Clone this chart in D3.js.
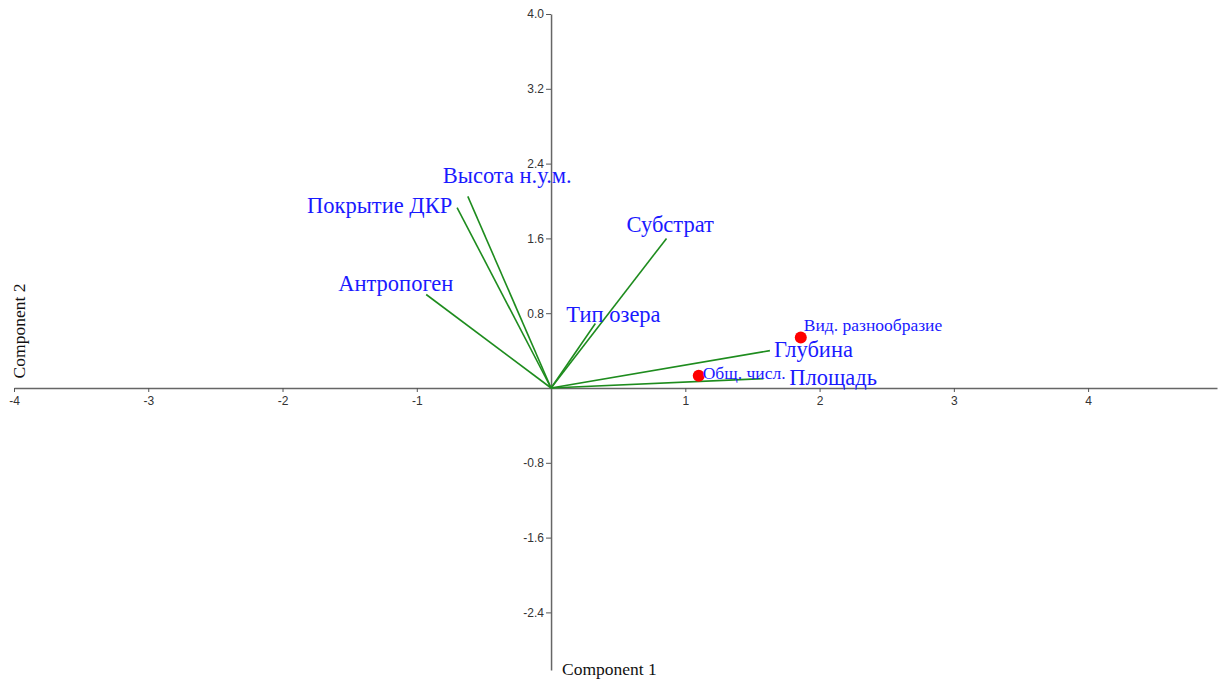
<!DOCTYPE html>
<html>
<head>
<meta charset="utf-8">
<script src="https://cdn.jsdelivr.net/npm/d3@7"></script>
<style>
  body { margin: 0; background: #fff; }
  .tick text { font-family: "Liberation Sans", Arial, sans-serif; font-size: 12px; fill: #333; }
</style>
</head>
<body>
<div id="chart"></div>
<script>
// loadings (vectors from origin)
let varNames = ["Антропоген", "Покрытие ДКР", "Высота н.у.м.", "Субстрат", "Тип озера", "Глубина", "Площадь"];
let varX = [-0.93, -0.70, -0.62, 0.86, 0.33, 1.63, 1.58];
let varY = [1.00, 1.93, 2.05, 1.60, 0.69, 0.40, 0.10];

// scores shown as points
let pointNames = ["Вид. разнообразие", "Общ. числ."];
let pointX = [1.86, 1.10];
let pointY = [0.54, 0.13];

let xTicks = [-4, -3, -2, -1, 1, 2, 3, 4];
let yTicks = [4.0, 3.2, 2.4, 1.6, 0.8, -0.8, -1.6, -2.4];

// label offsets in px from the end of each vector / point
let varLabelOffset = [[-88, -4], [-150, 5], [-25, -13], [-40, -6], [-29, -1], [4, 6], [26, 6]];
let pointLabelOffset = [[3, -7], [4, 3]];

let width = 1218, height = 679;
let serif = "'Liberation Serif', 'Times New Roman', serif";

let svg = d3.select("#chart").append("svg")
  .attr("width", width)
  .attr("height", height);

let x = d3.scaleLinear().domain([-4, 4.96]).range([14, 1217]);
let y = d3.scaleLinear().domain([-3.016, 4]).range([670, 14]);

// plain hyphen instead of unicode minus
let fmtX = (d) => String(d);
let fmtY = (d) => d.toFixed(1);

// x axis through y=0
let xAxis = svg.append("g")
  .attr("transform", "translate(0," + y(0) + ")")
  .call(d3.axisBottom(x).tickValues(xTicks).tickSize(4).tickSizeOuter(0).tickFormat(fmtX));

// y axis through x=0
let yAxis = svg.append("g")
  .attr("transform", "translate(" + x(0) + ",0)")
  .call(d3.axisLeft(y).tickValues(yTicks).tickSize(5).tickSizeOuter(0).tickFormat(fmtY));

svg.selectAll(".domain").attr("stroke", "#666").attr("stroke-width", 1.5);
svg.selectAll(".tick line").attr("stroke", "#555");
xAxis.selectAll(".tick text").attr("dy", "0.85em");
yAxis.selectAll(".tick text").attr("x", -7);

// axis titles
svg.append("text")
  .attr("x", 562)
  .attr("y", 675)
  .style("font-family", serif)
  .style("font-size", "17.5px")
  .style("fill", "#111")
  .text("Component 1");

svg.append("text")
  .attr("transform", "translate(25,331) rotate(-90)")
  .style("text-anchor", "middle")
  .style("font-family", serif)
  .style("font-size", "17.5px")
  .style("fill", "#111")
  .text("Component 2");

// vectors
svg.selectAll(".vec")
  .data(varNames)
  .enter()
  .append("line")
  .attr("class", "vec")
  .attr("x1", x(0))
  .attr("y1", y(0))
  .attr("x2", (d, i) => x(varX[i]))
  .attr("y2", (d, i) => y(varY[i]))
  .attr("stroke", "#1e8c1e")
  .attr("stroke-width", 1.6);

svg.selectAll(".vec-label")
  .data(varNames)
  .enter()
  .append("text")
  .attr("class", "vec-label")
  .attr("x", (d, i) => x(varX[i]) + varLabelOffset[i][0])
  .attr("y", (d, i) => y(varY[i]) + varLabelOffset[i][1])
  .style("font-family", serif)
  .style("font-size", "22.5px")
  .style("fill", "#1a1aff")
  .text((d) => d);

// points
svg.selectAll(".pt")
  .data(pointNames)
  .enter()
  .append("circle")
  .attr("class", "pt")
  .attr("cx", (d, i) => x(pointX[i]))
  .attr("cy", (d, i) => y(pointY[i]))
  .attr("r", 6)
  .attr("fill", "#ff0000");

svg.selectAll(".pt-label")
  .data(pointNames)
  .enter()
  .append("text")
  .attr("class", "pt-label")
  .attr("x", (d, i) => x(pointX[i]) + pointLabelOffset[i][0])
  .attr("y", (d, i) => y(pointY[i]) + pointLabelOffset[i][1])
  .style("font-family", serif)
  .style("font-size", "17.5px")
  .style("fill", "#1a1aff")
  .text((d) => d);
</script>
</body>
</html>
